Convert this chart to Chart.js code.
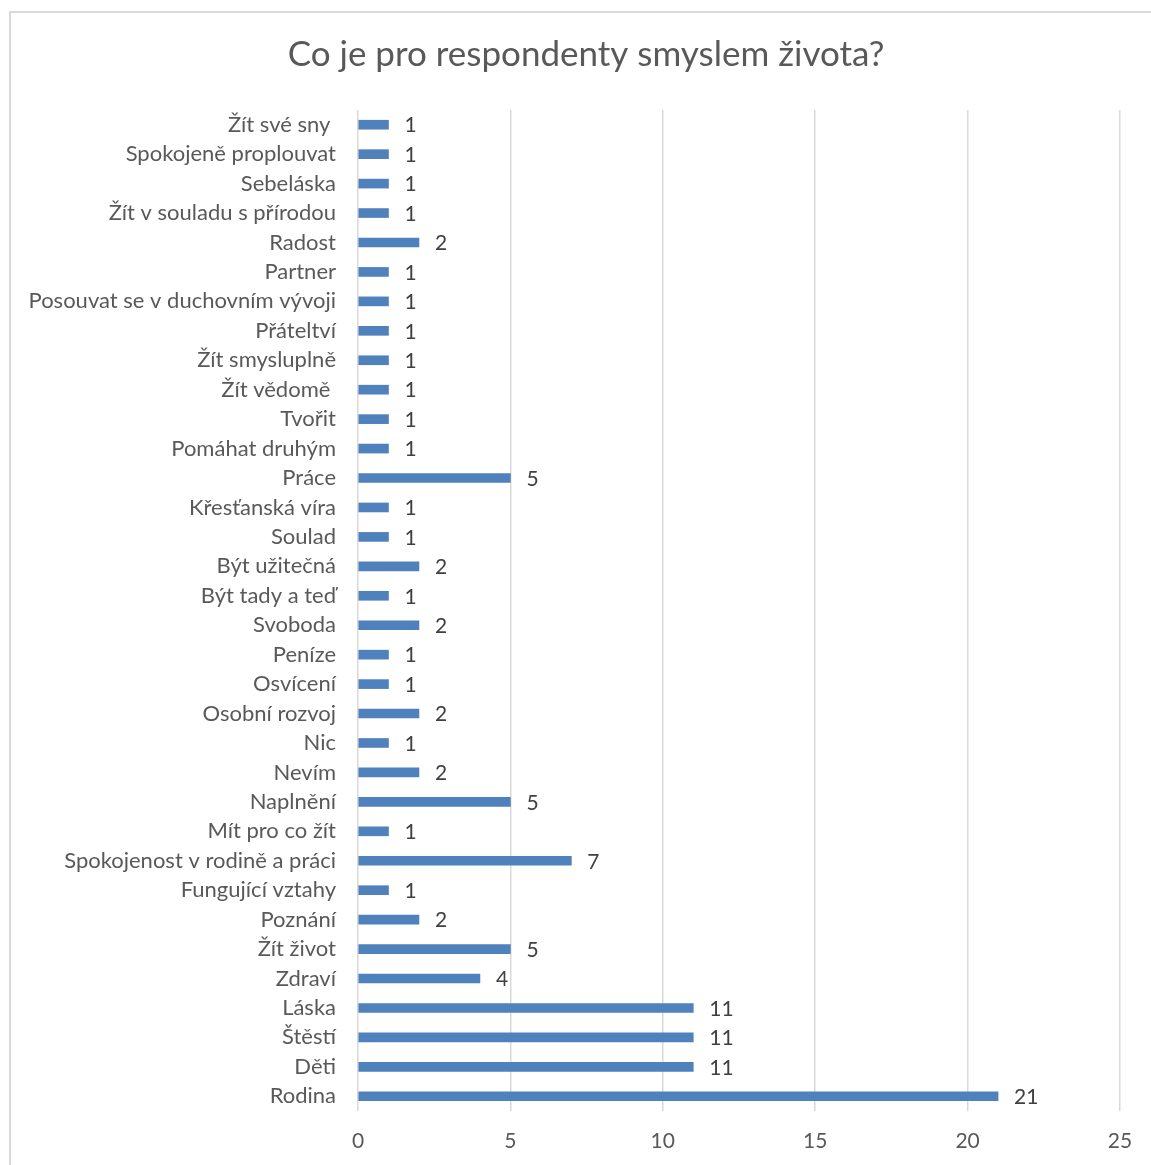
<!DOCTYPE html>
<html lang="cs">
  <head>
    <meta charset="utf-8" />
    <title>Co je pro respondenty smyslem života?</title>
    <style>
      html, body { margin: 0; padding: 0; background: #fff; overflow: hidden; }
      .frame {
        position: absolute;
        left: 9px;
        top: 11px;
        width: 1152px;
        height: 1160px;
        border-left: 2px solid #d9d9d9;
        border-top: 2px solid #d9d9d9;
      }
      .frame canvas { display: block; }
    </style>
  </head>
  <body>

<div class="frame">
  <div style="width:1150px;height:1152px;position:relative">
    <canvas id="chartMeaning"></canvas>
  </div>
</div>

<script src="https://cdn.jsdelivr.net/npm/chart.js@4.4.0/dist/chart.umd.min.js"></script>

<script>

// odpovědi shora dolů
let labels = [
  'Žít své sny ', 'Spokojeně proplouvat', 'Sebeláska', 'Žít v souladu s přírodou',
  'Radost', 'Partner', 'Posouvat se v duchovním vývoji', 'Přáteltví',
  'Žít smysluplně', 'Žít vědomě ', 'Tvořit', 'Pomáhat druhým', 'Práce',
  'Křesťanská víra', 'Soulad', 'Být užitečná', 'Být tady a teď', 'Svoboda',
  'Peníze', 'Osvícení', 'Osobní rozvoj', 'Nic', 'Nevím', 'Naplnění',
  'Mít pro co žít', 'Spokojenost v rodině a práci', 'Fungující vztahy',
  'Poznání', 'Žít život', 'Zdraví', 'Láska', 'Štěstí', 'Děti', 'Rodina'
]

let counts = [
  1, 1, 1, 1,
  2, 1, 1, 1,
  1, 1, 1, 1, 5,
  1, 1, 2, 1, 2,
  1, 1, 2, 1, 2, 5,
  1, 7, 1,
  2, 5, 4, 11, 11, 11, 21
]

let xMin = 0
let xMax = 25
let xStep = 5

const FONT = 'Lato, "Open Sans", sans-serif'

// čísla vpravo od sloupců
const valueLabels = {
  id: 'valueLabels',
  afterDatasetsDraw(chart) {
    const ctx = chart.ctx
    const meta = chart.getDatasetMeta(0)
    ctx.save()
    ctx.font = '21px ' + FONT
    ctx.fillStyle = '#404040'
    ctx.textAlign = 'left'
    ctx.textBaseline = 'middle'
    meta.data.forEach(function (bar, i) {
      ctx.fillText(String(counts[i]), bar.x + 16, bar.y + 1)
    })
    ctx.restore()
  }
}

window.onload = function () {

  var config = {
    type: 'bar',
    data: {
      labels: labels,
      datasets: [
        {
          data: counts,
          backgroundColor: '#4f81bd',
          barThickness: 9
        }
      ]
    },
    options: {
      indexAxis: 'y',
      responsive: true,
      maintainAspectRatio: false,
      animation: false,
      layout: { padding: 0 },
      plugins: {
        legend: { display: false },
        tooltip: { enabled: false },
        title: {
          display: true,
          text: 'Co je pro respondenty smyslem života?',
          color: '#595959',
          font: { family: FONT, size: 35, weight: 'normal', lineHeight: 1.2 },
          padding: { top: 21, bottom: 34 }
        }
      },
      scales: {
        x: {
          min: xMin,
          max: xMax,
          ticks: {
            stepSize: xStep,
            color: '#595959',
            font: { family: FONT, size: 21 },
            padding: 18
          },
          grid: { color: '#d9d9d9', lineWidth: 1.5, drawTicks: false },
          border: { display: false },
          afterFit: function (scale) { scale.height = 54 }
        },
        y: {
          ticks: {
            color: '#595959',
            font: { family: FONT, size: 22 },
            padding: 22,
            autoSkip: false
          },
          grid: { display: false, drawTicks: false },
          border: { display: false },
          afterFit: function (scale) { scale.width = 347 }
        },
        // prázdná osa vpravo jen drží volné místo za mřížkou
        yRight: {
          type: 'linear',
          position: 'right',
          ticks: { display: false },
          grid: { display: false, drawTicks: false },
          border: { display: false },
          afterFit: function (scale) { scale.width = 41 }
        }
      }
    },
    plugins: [valueLabels]
  };

  var ctx = document.getElementById('chartMeaning').getContext('2d');
  window.meaningChart = new Chart(ctx, config);
};
</script>

  </body>
</html>
